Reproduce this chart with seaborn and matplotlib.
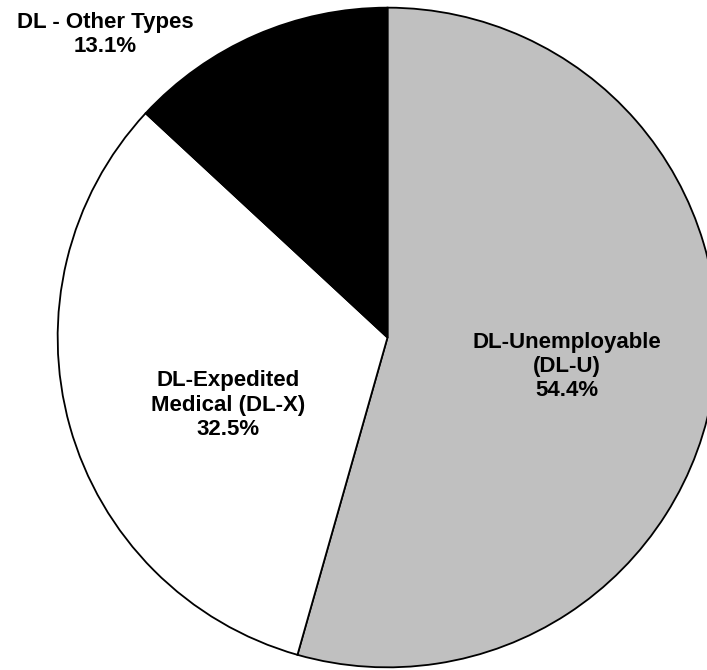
import matplotlib
matplotlib.use("Agg")
import matplotlib.pyplot as plt
import seaborn as sns

# Slice data (clockwise from 12 o'clock)
labels = ["DL-Unemployable\n(DL-U)", "DL-Expedited\nMedical (DL-X)", "DL - Other Types"]
shares = [54.4, 32.5, 13.1]
colors = ["#C0C0C0", "#FFFFFF", "#000000"]
# where each label sits, in pie units (radius = 1)
label_pos = [(0.543, -0.088), (-0.483, -0.205), (-0.855, 0.919)]

sns.set_theme(style="white")
plt.rcParams["font.family"] = ["Liberation Sans", "DejaVu Sans"]

fig = plt.figure(figsize=(7.07, 6.70), dpi=100)
ax = fig.add_axes([57 / 707, 2 / 670, 661 / 707, 661 / 670])

ax.pie(shares, colors=colors, startangle=90, counterclock=False,
       wedgeprops={"edgecolor": "black", "linewidth": 1.3})

for lab, val, (x, y) in zip(labels, shares, label_pos):
    ax.text(x, y, f"{lab}\n{val:.1f}%", ha="center", va="center",
            fontsize=16, fontweight="bold", color="black",
            linespacing=1.2)

ax.set_xlim(-1.002, 1.002)
ax.set_ylim(-1.002, 1.002)
ax.set_aspect("equal")
ax.axis("off")

fig.savefig("out.png", dpi=100, facecolor="white")
